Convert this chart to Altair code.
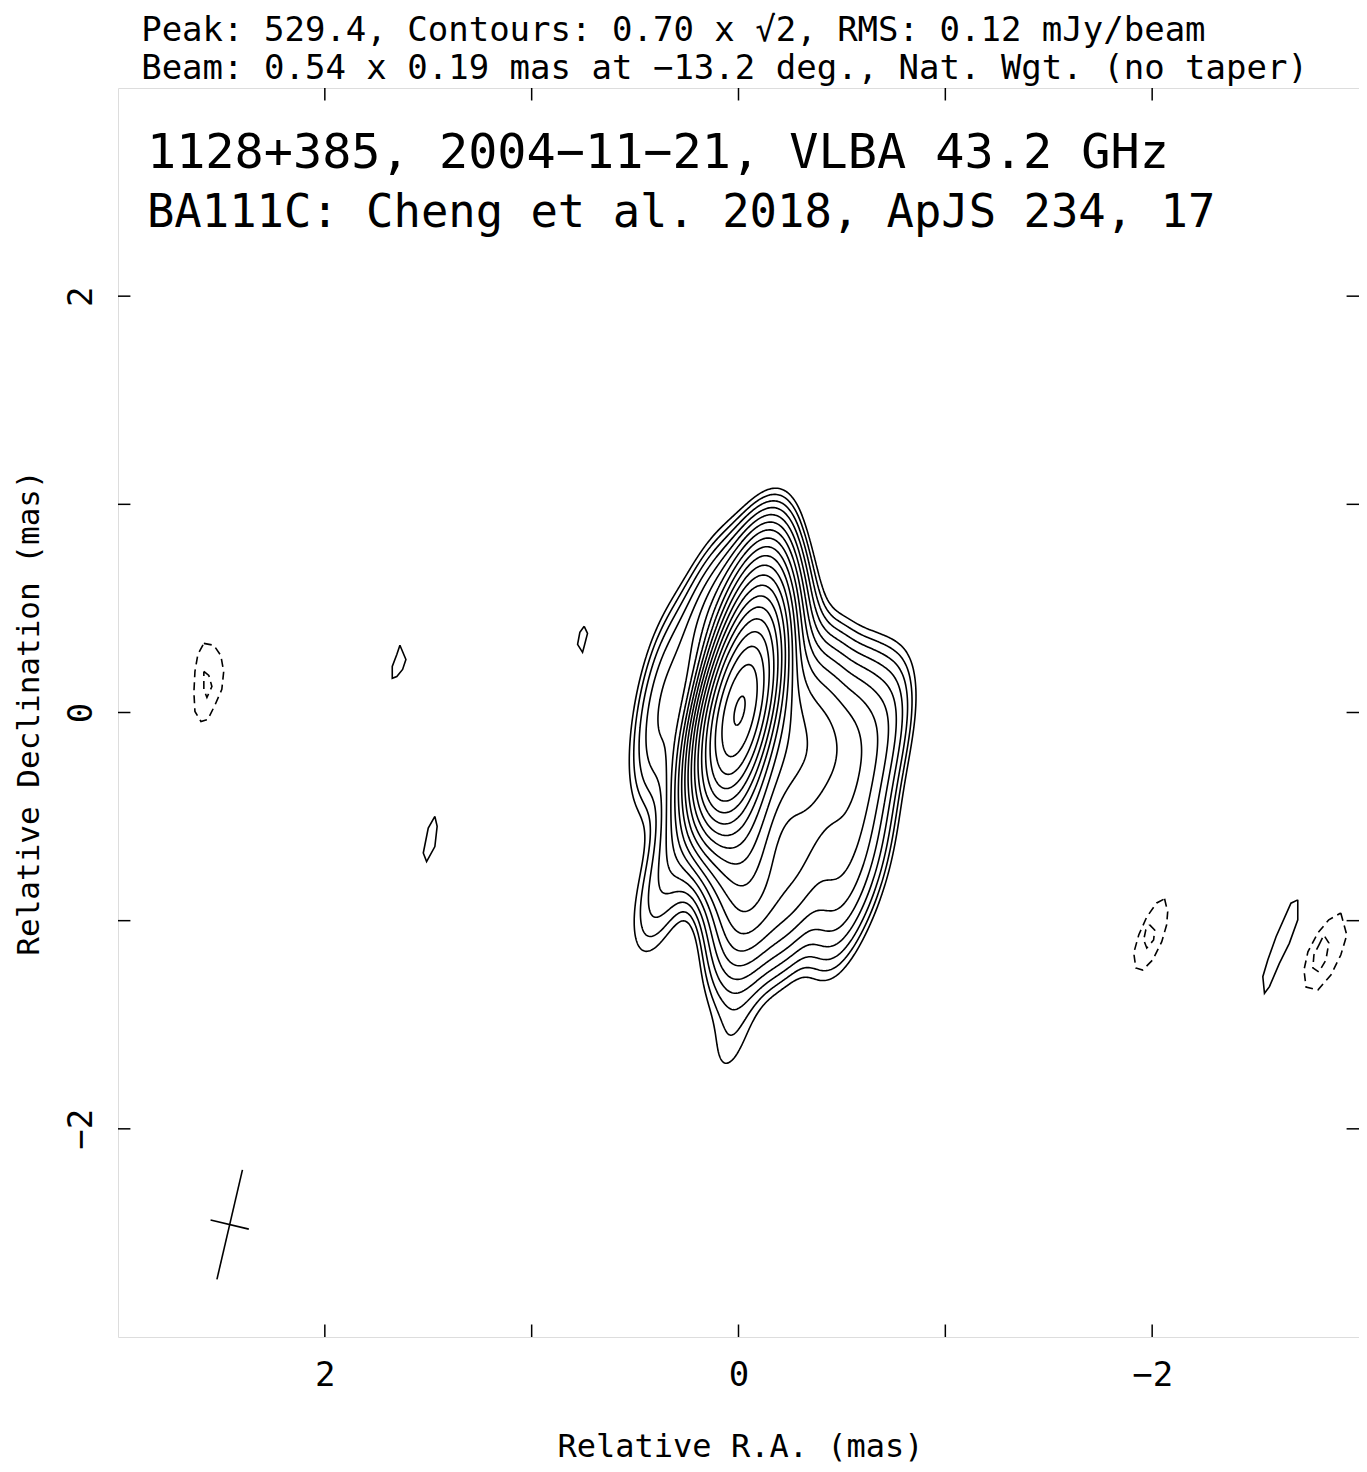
import numpy as np
import pandas as pd
import altair as alt

# ---------------- header values ----------------
header_1 = "Peak: 529.4, Contours: 0.70 x \u221a2, RMS: 0.12 mJy/beam"
header_2 = "Beam: 0.54 x 0.19 mas at \u221213.2 deg., Nat. Wgt. (no taper)"
title_1 = "1128+385, 2004\u221211\u221221, VLBA 43.2 GHz"
title_2 = "BA111C: Cheng et al. 2018, ApJS 234, 17"

# contour levels in mJy/beam (0.70 x sqrt2^k)
levels = [0.70, 0.99, 1.40, 1.98, 2.80, 3.96, 5.60, 7.92, 11.2, 15.8,
          22.4, 31.7, 44.8, 63.4, 89.6, 126.7, 179.2, 253.4, 358.4, 506.8]

# restoring beam (mas, mas, deg) and where it is drawn
beam_maj, beam_min, beam_pa = 0.54, 0.19, -13.2
beam_ra, beam_dec = 2.46, -2.46

# clean-like components (RA mas, Dec mas, mJy/beam)
comp_ra = [0.00, -0.04, 0.02, -0.06, 0.00, -0.06, -0.02, -0.07, -0.05,
           -0.22, -0.22, -0.38, -0.38, -0.52, -0.52, -0.70, -0.62, -0.22, -0.62,
           -0.30, -0.50,
           -0.12, -0.30, -0.45, 0.00, -0.25, -0.50, -0.62,
           0.20, 0.25, 0.38, 0.40, 0.33, 0.15, 0.05, 0.38,
           0.03]
comp_dec = [0.00, 0.15, -0.15, 0.33, -0.33, 0.50, -0.52, 0.55, -0.72,
            0.02, -0.25, -0.02, -0.27, -0.07, -0.32, -0.10, -0.47, 0.33, -0.05,
            -0.50, -0.57,
            -0.90, -0.75, -0.80, -1.02, -0.96, -0.95, -0.72,
            -0.20, -0.55, -0.20, -0.90, 0.25, 0.45, 0.55, 0.00,
            -1.55]
comp_flux = [380, 90, 70, 30, 30, 10, 14, 3, 8,
             10, 10, 5.5, 6, 3.5, 3.5, 2.5, 2.0, 2.0, 1.4,
             2.5, 2.0,
             5, 3.5, 2.0, 2.6, 1.8, 1.6, 1.3,
             3, 2.5, 1.2, 1.2, 1.3, 3.0, 1.2, 1.3,
             0.8]

# isolated noise contours (RA mas, Dec mas), solid = +0.70, dashed = -0.70
pos_blobs = {
    "p1": ([1.637, 1.652, 1.674, 1.674, 1.652, 1.624, 1.608],
           [0.323, 0.279, 0.221, 0.164, 0.173, 0.207, 0.255]),
    "p2": ([1.468, 1.500, 1.524, 1.508, 1.468, 1.457],
           [-0.499, -0.555, -0.675, -0.716, -0.644, -0.547]),
    "p3": ([0.746, 0.767, 0.778, 0.754, 0.746, 0.730],
           [0.414, 0.385, 0.327, 0.289, 0.318, 0.380]),
    "p4": ([-2.704, -2.671, -2.599, -2.559, -2.535, -2.543, -2.567, -2.615, -2.663, -2.704],
           [-0.900, -0.916, -1.077, -1.189, -1.269, -1.349, -1.317, -1.205, -1.109, -0.996]),
}
neg_blobs = {
    "n1": ([2.585, 2.537, 2.503, 2.489, 2.498, 2.532, 2.566, 2.599, 2.628, 2.633, 2.628, 2.614],
           [0.332, 0.323, 0.274, 0.197, 0.111, 0.034, -0.034, -0.043, 0.005, 0.096, 0.197, 0.279]),
    "n2": ([2.585, 2.561, 2.546, 2.570, 2.585],
           [0.197, 0.178, 0.125, 0.072, 0.111]),
    "n3": ([-2.060, -2.075, -2.070, -2.046, -2.002, -1.954, -1.921, -1.911, -1.935, -1.974, -2.022],
           [-0.895, -0.958, -1.020, -1.102, -1.189, -1.237, -1.227, -1.155, -1.069, -0.982, -0.915]),
    "n4": ([-1.988, -2.012, -2.007, -1.974, -1.959, -1.969],
           [-1.020, -1.045, -1.093, -1.131, -1.093, -1.045]),
    "n5": ([-2.912, -2.941, -2.912, -2.864, -2.801, -2.744, -2.734, -2.753, -2.801, -2.854],
           [-0.963, -1.069, -1.165, -1.261, -1.333, -1.319, -1.237, -1.150, -1.059, -0.996]),
    "n6": ([-2.806, -2.830, -2.854, -2.840, -2.806, -2.777, -2.782],
           [-1.117, -1.069, -1.107, -1.189, -1.247, -1.227, -1.165]),
}

tick_values = [-2, -1, 0, 1, 2]
label_values = [-2, 0, 2]
LIM = 3.0
TICK = 0.06

FONT = "DejaVu Sans Mono"

# ---------------- model image from components ----------------
xs = np.arange(-1.15, 0.85, 0.006)
ys = np.arange(-1.95, 1.35, 0.006)
X, Y = np.meshgrid(xs, ys)
pa = np.deg2rad(beam_pa)
smaj = beam_maj / 2.3548
smin = beam_min / 2.3548
Z = np.zeros_like(X)
for ra, de, f in zip(comp_ra, comp_dec, comp_flux):
    dx, dy = X - ra, Y - de
    u = dx * np.sin(pa) + dy * np.cos(pa)
    v = dx * np.cos(pa) - dy * np.sin(pa)
    Z += f * np.exp(-0.5 * (u ** 2 / smaj ** 2 + v ** 2 / smin ** 2))


def trace(level):
    B = Z > level
    c0 = B[:-1, :-1]; c1 = B[:-1, 1:]; c2 = B[1:, 1:]; c3 = B[1:, :-1]
    idx = c0 * 1 + c1 * 2 + c2 * 4 + c3 * 8
    cells = np.argwhere((idx > 0) & (idx < 15))
    adj = {}

    def link(a, b):
        adj.setdefault(a, []).append(b)
        adj.setdefault(b, []).append(a)

    for i, j in cells:
        i = int(i); j = int(j)
        k = int(idx[i, j])
        E0 = ("h", i, j); E1 = ("v", i, j + 1); E2 = ("h", i + 1, j); E3 = ("v", i, j)
        if k in (5, 10):
            centre = (Z[i, j] + Z[i, j + 1] + Z[i + 1, j + 1] + Z[i + 1, j]) / 4 > level
            if (k == 5) == centre:
                link(E0, E1); link(E2, E3)
            else:
                link(E3, E0); link(E1, E2)
            continue
        cr = []
        if c0[i, j] != c1[i, j]: cr.append(E0)
        if c1[i, j] != c2[i, j]: cr.append(E1)
        if c2[i, j] != c3[i, j]: cr.append(E2)
        if c3[i, j] != c0[i, j]: cr.append(E3)
        link(cr[0], cr[1])

    def pt(key):
        kind, i, j = key
        if kind == "h":
            z0, z1 = Z[i, j], Z[i, j + 1]
            t = (level - z0) / (z1 - z0)
            return xs[j] + t * (xs[j + 1] - xs[j]), ys[i]
        z0, z1 = Z[i, j], Z[i + 1, j]
        t = (level - z0) / (z1 - z0)
        return xs[j], ys[i] + t * (ys[i + 1] - ys[i])

    seen = set(); lines = []
    starts = [k for k, v in adj.items() if len(v) == 1] + list(adj.keys())
    for s in starts:
        if s in seen:
            continue
        path = [s]; seen.add(s); cur = s
        while True:
            nxt = [n for n in adj[cur] if n not in seen]
            if not nxt:
                if s in adj[cur] and len(path) > 2:
                    path.append(s)
                break
            cur = nxt[0]; seen.add(cur); path.append(cur)
        lines.append([pt(p) for p in path])
    return lines


rows = []
lid = 0
for li, lev in enumerate(levels):
    for line in trace(lev):
        for o, (a, b) in enumerate(line):
            rows.append({"ra": a, "dec": b, "line": lid, "o": o})
        lid += 1
contours = pd.DataFrame(rows)


def blob_frame(blobs):
    out = []
    for name, (ra_l, de_l) in blobs.items():
        pts = list(zip(ra_l, de_l)) + [(ra_l[0], de_l[0])]
        for o, (a, b) in enumerate(pts):
            out.append({"ra": a, "dec": b, "line": name, "o": o})
    return pd.DataFrame(out)


pos_df = blob_frame(pos_blobs)
neg_df = blob_frame(neg_blobs)

# beam cross from beam parameters
pr = np.deg2rad(beam_pa)
beam_df = pd.DataFrame([
    {"ra": beam_ra + 0.5 * beam_maj * np.sin(pr), "dec": beam_dec + 0.5 * beam_maj * np.cos(pr),
     "ra2": beam_ra - 0.5 * beam_maj * np.sin(pr), "dec2": beam_dec - 0.5 * beam_maj * np.cos(pr)},
    {"ra": beam_ra + 0.5 * beam_min * np.cos(pr), "dec": beam_dec - 0.5 * beam_min * np.sin(pr),
     "ra2": beam_ra - 0.5 * beam_min * np.cos(pr), "dec2": beam_dec + 0.5 * beam_min * np.sin(pr)},
])

# inward ticks on all four sides
trow = []
for t in tick_values:
    trow.append({"ra": t, "dec": -LIM, "ra2": t, "dec2": -LIM + TICK})
    trow.append({"ra": t, "dec": LIM, "ra2": t, "dec2": LIM - TICK})
    trow.append({"ra": LIM, "dec": t, "ra2": LIM - TICK, "dec2": t})
    trow.append({"ra": -LIM, "dec": t, "ra2": -LIM + TICK, "dec2": t})
ticks_df = pd.DataFrame(trow)

xscale = alt.Scale(domain=[-LIM, LIM], reverse=True, nice=False, zero=False)
yscale = alt.Scale(domain=[-LIM, LIM], nice=False, zero=False)

LABEL_EXPR = "datum.value < 0 ? '\u2212' + abs(datum.value) : '' + datum.value"

xaxis = alt.Axis(values=label_values, ticks=False, domain=False, grid=False,
                 labelExpr=LABEL_EXPR,
                 labelFont=FONT, labelFontSize=34, labelColor="black", labelPadding=21,
                 labelFontWeight="normal",
                 title="Relative R.A. (mas)", titleFont=FONT, titleFontSize=32,
                 titleFontWeight="normal", titleColor="black",
                 titleX=622, titleY=109, titleAnchor="middle", titleAlign="center",
                 titleBaseline="middle")
yaxis = alt.Axis(values=label_values, ticks=False, domain=False, grid=False,
                 labelExpr=LABEL_EXPR,
                 labelFont=FONT, labelFontSize=34, labelColor="black", labelPadding=27,
                 labelAngle=270, labelAlign="center", labelBaseline="alphabetic",
                 labelFontWeight="normal",
                 title="Relative Declination (mas)", titleFont=FONT, titleFontSize=31,
                 titleFontWeight="normal", titleColor="black", titleAngle=270,
                 titleX=-89, titleY=624.5, titleAlign="center", titleBaseline="middle")

base_x = alt.X("ra:Q", scale=xscale, axis=xaxis)
base_y = alt.Y("dec:Q", scale=yscale, axis=yaxis)

LW = 1.6
contour_layer = alt.Chart(contours).mark_line(color="black", strokeWidth=LW).encode(
    x=base_x, y=base_y, detail="line:N", order="o:Q")
pos_layer = alt.Chart(pos_df).mark_line(color="black", strokeWidth=LW).encode(
    x="ra:Q", y="dec:Q", detail="line:N", order="o:Q")
neg_layer = alt.Chart(neg_df).mark_line(color="black", strokeWidth=LW, strokeDash=[8, 5]).encode(
    x="ra:Q", y="dec:Q", detail="line:N", order="o:Q")
beam_layer = alt.Chart(beam_df).mark_rule(color="black", strokeWidth=LW).encode(
    x="ra:Q", y="dec:Q", x2="ra2:Q", y2="dec2:Q")
tick_layer = alt.Chart(ticks_df).mark_rule(color="black", strokeWidth=1.5).encode(
    x="ra:Q", y="dec:Q", x2="ra2:Q", y2="dec2:Q")

text_df = pd.DataFrame([
    {"ra": 2.86, "dec": 2.614, "t": title_1, "s": 48.5},
    {"ra": 2.86, "dec": 2.334, "t": title_2, "s": 45.5},
])
text_layer = alt.Chart(text_df).mark_text(
    align="left", baseline="alphabetic", font=FONT, color="black").encode(
    x="ra:Q", y="dec:Q", text="t:N", size=alt.Size("s:Q", scale=None, legend=None))
head_df = pd.DataFrame([
    {"ra": 2.888, "dec": 3.226, "t": header_1},
    {"ra": 2.888, "dec": 3.043, "t": header_2},
])
head_layer = alt.Chart(head_df).mark_text(
    align="left", baseline="alphabetic", font=FONT, fontSize=34, color="black").encode(
    x="ra:Q", y="dec:Q", text="t:N")

chart = alt.layer(contour_layer, pos_layer, neg_layer, beam_layer, tick_layer,
                  text_layer, head_layer).properties(
    width=1241, height=1249,
    autosize=alt.AutoSizeParams(type="none"),
    padding={"left": 110, "top": 80, "right": 0, "bottom": 126},
).configure_view(stroke="black", strokeWidth=2).configure(background="white")

chart.save("out.html", embed_options={"renderer": "svg", "actions": False})
